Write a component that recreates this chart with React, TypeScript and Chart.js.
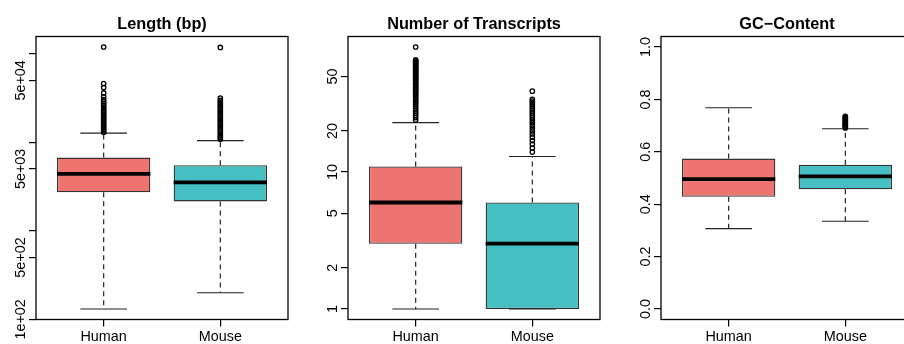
import React, { useEffect, useRef } from "react";
import { Chart, registerables } from "chart.js";

Chart.register(...registerables);

// ---------- data ----------
const GROUPS = ["Human", "Mouse"];

// Length (bp)
const LENGTH_LOWER = [131, 200];
const LENGTH_Q1 = [2720, 2150];
const LENGTH_MEDIAN = [4390, 3530];
const LENGTH_Q3 = [6710, 5500];
const LENGTH_UPPER = [12650, 10450];
const LENGTH_OUTLIERS_HUMAN = [
  13000, 13500, 14000, 14600, 15200, 15900, 16600, 17300, 18100, 18900, 19800,
  20700, 21700, 22700, 23800, 25000, 26200, 27500, 28900, 30400, 32500, 36000,
  41500, 46000, 119000,
];
const LENGTH_OUTLIERS_MOUSE = [
  10800, 11300, 11800, 12400, 13000, 13600, 14200, 14900, 15600, 16300, 17100,
  17900, 18700, 19600, 20500, 21500, 22500, 23600, 24700, 25900, 27100, 28400,
  29800, 31500, 117500,
];
const LENGTH_TICKS = [100, 500, 1000, 5000, 10000, 50000, 100000];
const LENGTH_TICK_LABELS = ["1e+02", "5e+02", "", "5e+03", "", "5e+04", ""];

// Number of Transcripts
const TX_LOWER = [1, 1];
const TX_Q1 = [3, 1];
const TX_MEDIAN = [6, 3];
const TX_Q3 = [11, 6];
const TX_UPPER = [23, 13];
const TX_OUTLIERS_HUMAN = [
  24, 25, 26, 27, 28, 29, 30, 31, 32, 33, 34, 35, 36, 37, 38, 39, 40, 41, 42, 43,
  44, 45, 46, 47, 48, 49, 50, 51, 52, 53, 54, 55, 56, 57, 58, 59, 60, 61, 62, 63,
  64, 65, 66, 82,
];
const TX_OUTLIERS_MOUSE = [
  14, 15, 16, 17, 18, 19, 20, 21, 22, 23, 24, 25, 26, 27, 28, 29, 30, 31, 32, 33,
  34, 39,
];
const TX_TICKS = [1, 2, 5, 10, 20, 50];
const TX_TICK_LABELS = ["1", "2", "5", "10", "20", "50"];

// GC-Content
const GC_LOWER = [0.307, 0.335];
const GC_Q1 = [0.428, 0.457];
const GC_MEDIAN = [0.496, 0.506];
const GC_Q3 = [0.574, 0.551];
const GC_UPPER = [0.768, 0.688];
const GC_OUTLIERS_HUMAN: number[] = [];
const GC_OUTLIERS_MOUSE = [
  0.691, 0.695, 0.699, 0.703, 0.707, 0.711, 0.715, 0.719, 0.723, 0.727, 0.731,
  0.735,
];
const GC_LIMITS = [0, 1];
const GC_TICKS = [0, 0.2, 0.4, 0.6, 0.8, 1.0];
const GC_TICK_LABELS = ["0.0", "0.2", "0.4", "0.6", "0.8", "1.0"];

// ---------- styles ----------
const FILLS = ["rgb(237,116,112)", "rgb(70,191,196)"];
const FONT = "'Liberation Sans', Arial, Helvetica, sans-serif";
const BOX_WIDTH = 0.8;
const CAP_WIDTH = 0.4;
const CANVAS_W = 312;
const CANVAS_H = 344;

interface Panel {
  title: string;
  lower: number[];
  q1: number[];
  median: number[];
  q3: number[];
  upper: number[];
  outliers: number[][];
  ticks: number[];
  tickLabels: string[];
  log: boolean;
  limits?: number[];
}

const PANELS: Panel[] = [
  {
    title: "Length (bp)",
    lower: LENGTH_LOWER,
    q1: LENGTH_Q1,
    median: LENGTH_MEDIAN,
    q3: LENGTH_Q3,
    upper: LENGTH_UPPER,
    outliers: [LENGTH_OUTLIERS_HUMAN, LENGTH_OUTLIERS_MOUSE],
    ticks: LENGTH_TICKS,
    tickLabels: LENGTH_TICK_LABELS,
    log: true,
  },
  {
    title: "Number of Transcripts",
    lower: TX_LOWER,
    q1: TX_Q1,
    median: TX_MEDIAN,
    q3: TX_Q3,
    upper: TX_UPPER,
    outliers: [TX_OUTLIERS_HUMAN, TX_OUTLIERS_MOUSE],
    ticks: TX_TICKS,
    tickLabels: TX_TICK_LABELS,
    log: true,
  },
  {
    title: "GC\u2212Content",
    lower: GC_LOWER,
    q1: GC_Q1,
    median: GC_MEDIAN,
    q3: GC_Q3,
    upper: GC_UPPER,
    outliers: [GC_OUTLIERS_HUMAN, GC_OUTLIERS_MOUSE],
    ticks: GC_TICKS,
    tickLabels: GC_TICK_LABELS,
    log: false,
    limits: GC_LIMITS,
  },
];

function yRange(p: Panel): [number, number] {
  const vals = [...p.lower, ...p.upper, ...p.outliers.flat()];
  let lo = p.limits ? p.limits[0] : Math.min(...vals);
  let hi = p.limits ? p.limits[1] : Math.max(...vals);
  if (p.log) {
    lo = Math.log10(lo);
    hi = Math.log10(hi);
    const pad = (hi - lo) * 0.04;
    return [Math.pow(10, lo - pad), Math.pow(10, hi + pad)];
  }
  const pad = (hi - lo) * 0.04;
  return [lo - pad, hi + pad];
}

function makeConfig(p: Panel): any {
  const n = GROUPS.length;
  const [ymin, ymax] = yRange(p);
  const boxData = GROUPS.map((_, i) => ({ x: i + 1, y: [p.q1[i], p.q3[i]] }));
  const whiskers: any[] = [];
  const caps: any[] = [];
  const medians: any[] = [];
  const outl: any[] = [];
  GROUPS.forEach((_, i) => {
    const x = i + 1;
    whiskers.push({ x, y: p.q3[i] }, { x, y: p.upper[i] }, { x, y: null });
    whiskers.push({ x, y: p.q1[i] }, { x, y: p.lower[i] }, { x, y: null });
    caps.push({ x: x - CAP_WIDTH / 2, y: p.upper[i] }, { x: x + CAP_WIDTH / 2, y: p.upper[i] }, { x, y: null });
    caps.push({ x: x - CAP_WIDTH / 2, y: p.lower[i] }, { x: x + CAP_WIDTH / 2, y: p.lower[i] }, { x, y: null });
    medians.push({ x: x - BOX_WIDTH / 2, y: p.median[i] }, { x: x + BOX_WIDTH / 2, y: p.median[i] }, { x, y: null });
    p.outliers[i].forEach((v) => outl.push({ x, y: v }));
  });

  const framePlugin = {
    id: "rframe",
    afterDraw(chart: any) {
      const { ctx, chartArea } = chart;
      const ys = chart.scales.y;
      ctx.save();
      // frame
      ctx.strokeStyle = "#000";
      ctx.lineWidth = 1.3;
      ctx.strokeRect(chartArea.left, chartArea.top, chartArea.right - chartArea.left, chartArea.bottom - chartArea.top);
      // title
      ctx.fillStyle = "#000";
      ctx.font = `bold 16.3px ${FONT}`;
      ctx.textAlign = "center";
      ctx.textBaseline = "alphabetic";
      ctx.fillText(p.title, (chartArea.left + chartArea.right) / 2, 29);
      // rotated y tick labels
      ctx.font = `14.4px ${FONT}`;
      ys.ticks.forEach((t: any) => {
        if (!t.label) return;
        const y = ys.getPixelForValue(t.value);
        ctx.save();
        ctx.translate(chartArea.left - 11, y);
        ctx.rotate(-Math.PI / 2);
        ctx.textAlign = "center";
        ctx.textBaseline = "alphabetic";
        ctx.fillText(String(t.label), 0, 0);
        ctx.restore();
      });
      ctx.restore();
    },
  };

  return {
    type: "bar",
    data: {
      datasets: [
        {
          type: "line",
          data: medians,
          borderColor: "#000",
          borderWidth: 3.8,
          pointRadius: 0,
          spanGaps: false,
          order: 0,
        },
        {
          type: "line",
          data: outl,
          showLine: false,
          pointStyle: "circle",
          pointRadius: 2.2,
          pointBackgroundColor: "rgba(0,0,0,0)",
          pointBorderColor: "#000",
          pointBorderWidth: 1.3,
          order: 1,
        },
        {
          type: "line",
          data: caps,
          borderColor: "#222",
          borderWidth: 1.2,
          pointRadius: 0,
          spanGaps: false,
          order: 2,
        },
        {
          type: "line",
          data: whiskers,
          borderColor: "#222",
          borderWidth: 1.2,
          borderDash: [5, 4],
          pointRadius: 0,
          spanGaps: false,
          order: 3,
        },
        {
          type: "bar",
          data: boxData,
          backgroundColor: FILLS,
          borderColor: "#333",
          borderWidth: 1.3,
          borderSkipped: false,
          barPercentage: BOX_WIDTH,
          categoryPercentage: 1,
          order: 4,
        },
      ],
    },
    options: {
      responsive: false,
      animation: false,
      devicePixelRatio: 1,
      events: [],
      layout: { padding: { top: 36.5, right: 24, left: 0, bottom: 0 } },
      plugins: { legend: { display: false }, tooltip: { enabled: false }, title: { display: false } },
      scales: {
        x: {
          type: "linear",
          min: 0.42,
          max: n + 0.58,
          offset: false,
          grid: { display: true, offset: false, drawOnChartArea: false, drawTicks: true, tickLength: 7, color: "#000", lineWidth: 1.2 },
          border: { display: false },
          afterBuildTicks: (scale: any) => {
            scale.ticks = GROUPS.map((_, i) => ({ value: i + 1 }));
          },
          afterFit: (scale: any) => {
            scale.height = 24.5;
          },
          ticks: {
            color: "#000",
            font: { family: FONT, size: 14.4 },
            padding: 2,
            maxRotation: 0,
            minRotation: 0,
            autoSkip: false,
            callback: (v: any) => GROUPS[Math.round(v) - 1] ?? "",
          },
        },
        y: {
          type: p.log ? "logarithmic" : "linear",
          min: ymin,
          max: ymax,
          grid: { display: true, drawOnChartArea: false, drawTicks: true, tickLength: 7, color: "#000", lineWidth: 1.2 },
          border: { display: false },
          afterBuildTicks: (scale: any) => {
            scale.ticks = p.ticks.map((v) => ({ value: v }));
          },
          afterFit: (scale: any) => {
            scale.width = 36;
          },
          ticks: {
            display: false,
            autoSkip: false,
            callback: (_v: any, idx: number) => p.tickLabels[idx] ?? "",
          },
        },
      },
    },
    plugins: [framePlugin],
  };
}

function BoxPanel({ panel, left }: { panel: Panel; left: number }) {
  const ref = useRef<HTMLCanvasElement>(null);
  useEffect(() => {
    if (!ref.current) return;
    const chart = new Chart(ref.current, makeConfig(panel));
    return () => chart.destroy();
  }, [panel]);
  return (
    <canvas
      ref={ref}
      width={CANVAS_W}
      height={CANVAS_H}
      style={{ position: "absolute", left, top: 0, width: CANVAS_W, height: CANVAS_H }}
    />
  );
}

const PANEL_LEFTS = [0, 312, 625];

export default function App() {
  return (
    <div
      style={{
        position: "absolute",
        left: 0,
        top: 0,
        width: 904,
        height: 344,
        overflow: "hidden",
        background: "#fff",
      }}
    >
      {PANELS.map((p, i) => (
        <BoxPanel key={p.title} panel={p} left={PANEL_LEFTS[i]} />
      ))}
    </div>
  );
}
